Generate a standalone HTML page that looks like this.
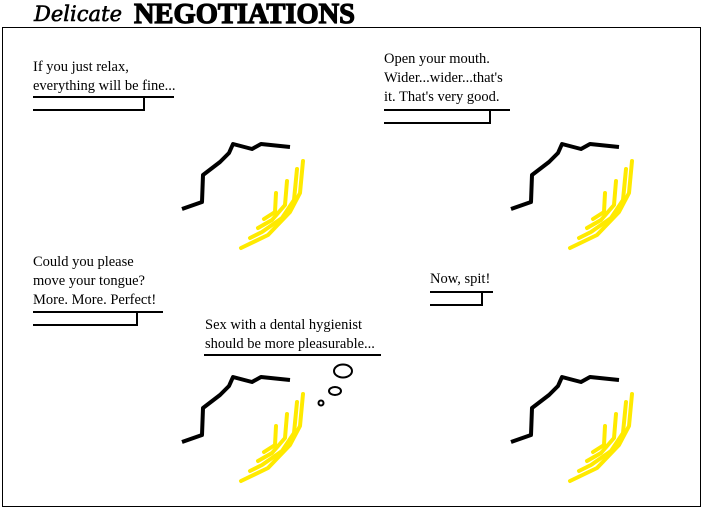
<!DOCTYPE html>
<html><head><meta charset="utf-8"><style>
html,body{margin:0;padding:0;background:#fff;width:704px;height:512px;overflow:hidden}
svg{display:block}
text{font-family:"Liberation Serif",serif;font-size:14.5px;fill:#000}
</style></head><body>
<svg width="704" height="512" viewBox="0 0 704 512">
<defs>
<g id="fig">
<polyline points="182,209 202,202 203,175 220,162 229,153 233,144 252,149 261,144 290,147" fill="none" stroke="#000" stroke-width="4" stroke-linejoin="round"/>
<g fill="none" stroke="#ffea00" stroke-width="4" stroke-linecap="round" stroke-linejoin="round">
<polyline points="303,161 300,193 290,212 268,235 241,248"/>
<polyline points="297,169 294,200 282,218 262,232 250,238"/>
<polyline points="287,181 285,205 272,220 258,228"/>
<polyline points="276,193 275,212 264,219"/>
</g>
</g>
</defs>
<text x="34" y="21" textLength="88" style="font-family:'DejaVu Serif',serif;font-style:italic;font-size:21px" fill="none" stroke="#000" stroke-width="0.6">Delicate</text>
<text x="134" y="23" textLength="221" lengthAdjust="spacingAndGlyphs" style="font-family:'Liberation Serif',serif;font-weight:bold;font-size:28px" stroke="#000" stroke-width="1.2">NEGOTIATIONS</text>
<rect x="2.5" y="27.5" width="698" height="479" fill="none" stroke="#000" stroke-width="1"/>
<use href="#fig"/>
<use href="#fig" x="329"/>
<use href="#fig" y="233"/>
<use href="#fig" x="329" y="233"/>
<g fill="none" stroke="#000" stroke-width="2">
<polyline points="33,97 174,97"/><polyline points="33,110 144,110 144,97"/>
<polyline points="384,110 510,110"/><polyline points="384,123 490,123 490,110"/>
<polyline points="33,312 163,312"/><polyline points="33,325 137,325 137,312"/>
<polyline points="430,292 493,292"/><polyline points="430,305 482,305 482,292"/>
<polyline points="204,355 381,355"/>
<ellipse cx="343" cy="371" rx="9" ry="6.5"/>
<ellipse cx="335" cy="391" rx="6" ry="4"/>
<circle cx="321" cy="403" r="2.5"/>
</g>
<text x="33" y="71">If you just relax,</text>
<text x="33" y="90">everything will be fine...</text>
<text x="384" y="63">Open your mouth.</text>
<text x="384" y="82">Wider...wider...that's</text>
<text x="384" y="101">it. That's very good.</text>
<text x="33" y="266">Could you please</text>
<text x="33" y="285">move your tongue?</text>
<text x="33" y="304">More. More. Perfect!</text>
<text x="430" y="283">Now, spit!</text>
<text x="205" y="329">Sex with a dental hygienist</text>
<text x="205" y="348">should be more pleasurable...</text>
</svg>
</body></html>
